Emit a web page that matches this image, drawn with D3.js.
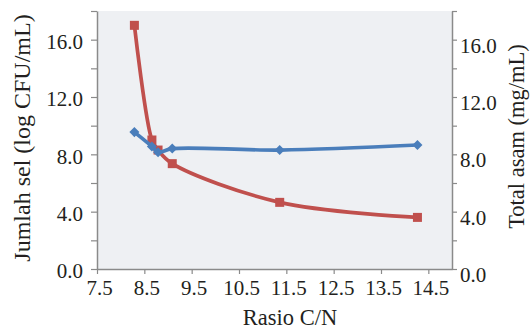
<!DOCTYPE html>
<html><head><meta charset="utf-8">
<script src="https://cdn.jsdelivr.net/npm/d3@7"></script>
<style>
body{margin:0;background:#fff;}
svg{display:block;}
svg text{font-family:"Liberation Serif","Times New Roman",serif;}
</style></head>
<body><svg id="c" width="530" height="331"></svg>
<script>
const ratioCN = [8.29, 8.66, 8.79, 9.09, 11.36, 14.27];
const jumlahSel = [9.55, 8.55, 8.15, 8.4, 8.3, 8.65];
const totalAsam = [17.0, 9.0, 8.3, 7.35, 4.65, 3.6];
const xTicks = [7.5, 8.5, 9.5, 10.5, 11.5, 12.5, 13.5, 14.5];
const yTicks = [0, 4, 8, 12, 16];
const yMinorTicks = [2, 6, 10, 14, 18];

const svg = d3.select("#c");
const L = 97, R = 452, T = 11, B = 269;
const x = d3.scaleLinear().domain([7.5, 15]).range([L, R]);
const yL = d3.scaleLinear().domain([0, 18]).range([B, T]);
const yR = d3.scaleLinear().domain([0, 18]).range([B, T]);
const axisCol = "#8a8a8a", textCol = "#231f20";
const serif = "'Liberation Serif','Times New Roman',serif";

svg.append("rect").attr("x", L).attr("y", T).attr("width", R - L).attr("height", B - T).attr("fill", "#eef0f3");

function styleAxis(g){
  g.attr("font-family", null).attr("font-size", null);
  g.selectAll("path.domain").attr("stroke", axisCol).attr("stroke-width", 1.5);
  g.selectAll(".tick line").attr("stroke", axisCol).attr("stroke-width", 1.2);
  g.selectAll("text").attr("fill", textCol).style("font-size", "21px").style("font-family", serif);
}

const gx = svg.append("g").attr("transform", `translate(0,${B})`)
  .call(d3.axisBottom(x).tickValues(xTicks).tickFormat(d3.format(".1f")).tickSizeInner(5).tickSizeOuter(0).tickPadding(6));
styleAxis(gx);
gx.selectAll(".tick text").attr("dx", "2");

const gyl = svg.append("g").attr("transform", `translate(${L},0)`)
  .call(d3.axisLeft(yL).tickValues(yTicks).tickFormat(d3.format(".1f")).tickSizeInner(6).tickSizeOuter(0).tickPadding(8));
styleAxis(gyl);
gyl.selectAll(".tick text").attr("dy", "0.42em");
svg.append("g").attr("transform", `translate(${L},0)`)
  .call(d3.axisLeft(yL).tickValues(yMinorTicks).tickFormat("").tickSizeInner(6).tickSizeOuter(0))
  .call(g => { g.select("path.domain").remove(); g.selectAll(".tick line").attr("stroke", axisCol).attr("stroke-width", 1.2); });

const gyr = svg.append("g").attr("transform", `translate(${R},0)`)
  .call(d3.axisRight(yR).tickValues(yTicks).tickFormat(d3.format(".1f")).tickSizeInner(5).tickSizeOuter(0).tickPadding(3));
styleAxis(gyr);
gyr.selectAll(".tick text").attr("dy", "0.6em");
svg.append("g").attr("transform", `translate(${R},0)`)
  .call(d3.axisRight(yR).tickValues(yMinorTicks).tickFormat("").tickSizeInner(5).tickSizeOuter(0))
  .call(g => { g.select("path.domain").remove(); g.selectAll(".tick line").attr("stroke", axisCol).attr("stroke-width", 1.2); });

// series
const red = "#c0504d", blue = "#4a7ebb";
const lineR = d3.line().x((d, i) => x(ratioCN[i])).y(d => yR(d)).curve(d3.curveCatmullRom.alpha(0.5));
const lineL = d3.line().x((d, i) => x(ratioCN[i])).y(d => yL(d)).curve(d3.curveCatmullRom.alpha(0.5));

svg.append("path").datum(totalAsam).attr("d", lineR).attr("fill", "none").attr("stroke", red).attr("stroke-width", 3.7);
svg.append("g").selectAll("rect").data(totalAsam).join("rect")
  .attr("x", (d, i) => x(ratioCN[i]) - 4.5).attr("y", d => yR(d) - 4.5)
  .attr("width", 9).attr("height", 9).attr("fill", red);

svg.append("path").datum(jumlahSel).attr("d", lineL).attr("fill", "none").attr("stroke", blue).attr("stroke-width", 3.7);
svg.append("g").selectAll("path").data(jumlahSel).join("path")
  .attr("d", d3.symbol(d3.symbolDiamond2, 64))
  .attr("transform", (d, i) => `translate(${x(ratioCN[i])},${yL(d)})`).attr("fill", blue);

// titles
svg.append("text").attr("x", 290).attr("y", 325).attr("text-anchor", "middle")
  .attr("fill", textCol).style("font-size", "22.5px").text("Rasio C/N");
svg.append("text").attr("transform", `translate(30,138) rotate(-90)`).attr("text-anchor", "middle")
  .attr("fill", textCol).style("font-size", "24px").text("Jumlah sel (log CFU/mL)");
svg.append("text").attr("transform", `translate(524,136.5) rotate(-90)`).attr("text-anchor", "middle")
  .attr("fill", textCol).style("font-size", "22.5px").text("Total asam (mg/mL)");
</script></body></html>
